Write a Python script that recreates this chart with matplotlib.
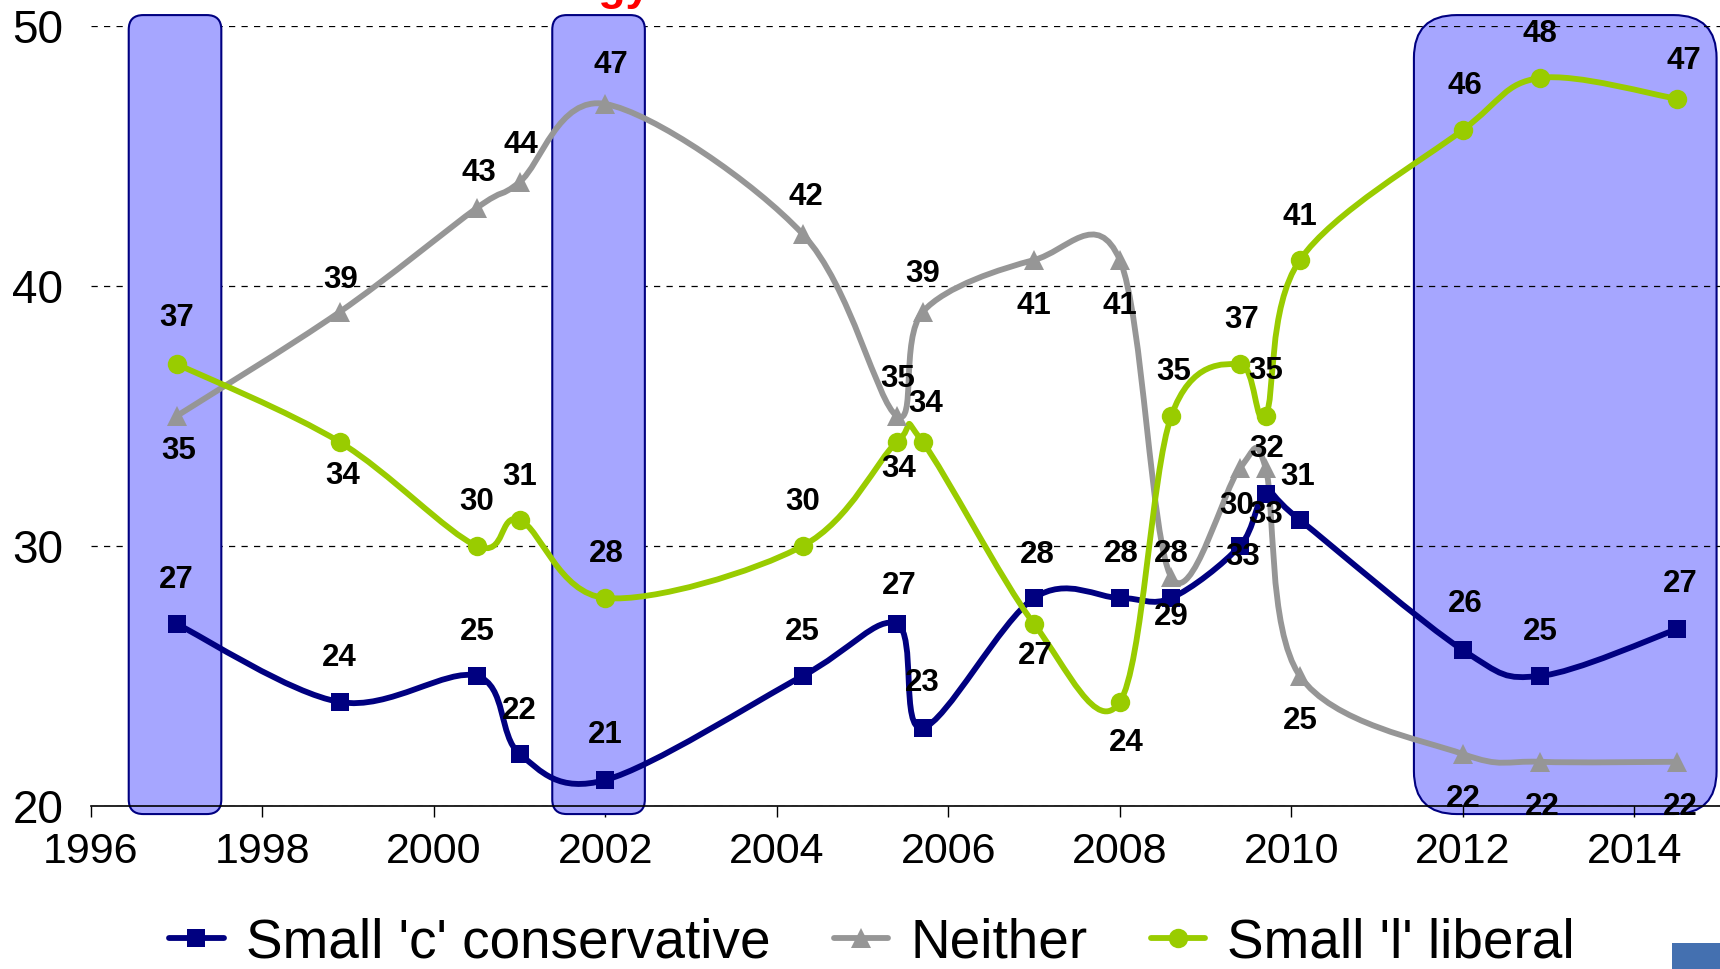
import matplotlib
matplotlib.use('Agg')
import matplotlib.pyplot as plt
import numpy as np
from matplotlib.path import Path
from matplotlib.patches import PathPatch, FancyBboxPatch, Rectangle
from matplotlib.lines import Line2D

# survey dates (decimal years) and shares (%)
years = [1997.0, 1998.9, 2000.5, 2001.0, 2002.0, 2004.3, 2005.4, 2005.7, 2007.0,
         2008.0, 2008.6, 2009.4, 2009.7, 2010.1, 2012.0, 2012.9, 2014.5]
conservative = [27, 24, 25, 22, 21, 25, 27, 23, 28, 28, 28, 30, 32, 31, 26, 25, 26.8]
neither = [35, 39, 43, 44, 47, 42, 35, 39, 41, 41, 28.8, 33, 33, 25, 22, 21.7, 21.7]
liberal = [37, 34, 30, 31, 28, 30, 34, 34, 27, 24, 35, 37, 35, 41, 46, 48, 47.2]

series_names = ["Small 'c' conservative", "Neither", "Small 'l' liberal"]
# shaded periods (start, end)
periods = [(1996.44, 1997.52), (2001.38, 2002.46), (2011.43, 2014.96)]
x_ticks = list(range(1996, 2015, 2))
y_ticks = [20, 30, 40, 50]

# label offsets in pixels (dx, dy)
cons_dx = [0, 0, 0, 0, 0, 0, 2, 0, 3, 1, 0, -3, 1, -2, 2, 0, 3]
cons_dy = [44, 44, 44, 43, 45, 44, 38, 45, 43, 44, 44, 40, 45, 43, 46, 44, 45]
neit_dx = [2, 1, 2, 1, 5, 3, 1, 0, 0, 0, 0, 3, 0, 0, 0, 2, 3]
neit_dy = [-35, 32, 35, 37, 39, 37, 37, 38, -46, -46, -40, -89, -47, -45, -45, -45, -45]
libe_dx = [0, 3, 0, 0, 1, 0, 2, 3, 1, 6, 2, 2, 0, 0, 2, 0, 7]
libe_dy = [46, -34, 44, 43, 44, 44, -27, 38, -32, -41, 44, 44, 45, 43, 44, 44, 38]

NAVY = '#000080'
GREY = '#969696'
GREEN = '#99CC00'
BOX = '#A6A6FF'
FONT = 'Liberation Sans'


def smooth_path(x, y, t=1 / 6):
    """Excel-like smoothed line as cubic bezier path through the points."""
    pts = np.column_stack([x, y]).astype(float)
    n = len(pts)
    verts = [pts[0]]
    codes = [Path.MOVETO]
    for i in range(n - 1):
        p0 = pts[max(i - 1, 0)]
        p1, p2 = pts[i], pts[i + 1]
        p3 = pts[min(i + 2, n - 1)]
        verts += [p1 + (p2 - p0) * t, p2 - (p3 - p1) * t, p2]
        codes += [Path.CURVE4] * 3
    return Path(verts, codes)


plt.rcParams['font.family'] = FONT

fig = plt.figure(figsize=(17.2, 9.69), dpi=100)
ax = fig.add_axes([91 / 1720, 1 - 806 / 969, 1629 / 1720, 780 / 969])
ax.set_xlim(1996, 2015)
ax.set_ylim(20, 50)

# shaded boxes
px_per_year = 1629 / 19
px_per_unit = 780 / 30
aspect = px_per_year / px_per_unit
for i, (x0, x1) in enumerate(periods):
    r = 0.17 if i < 2 else 0.5
    box = FancyBboxPatch((x0, 19.69), x1 - x0, 50.42 - 19.69,
                         boxstyle=f"round,pad=0,rounding_size={r}",
                         mutation_aspect=aspect,
                         facecolor=BOX, edgecolor=NAVY, lw=1.5,
                         zorder=1 if i < 2 else 0.4, clip_on=False)
    ax.add_patch(box)

series = [
    (conservative, NAVY, 's', 13, cons_dx, cons_dy),
    (neither, GREY, '^', 15, neit_dx, neit_dy),
    (liberal, GREEN, 'o', 14, libe_dx, libe_dy),
]
handles = []
for (vals, col, mk, ms, dxs, dys), name in zip(series, series_names):
    ax.add_patch(PathPatch(smooth_path(years, vals), fill=False, edgecolor=col,
                           lw=4.2, capstyle='round', joinstyle='round', zorder=3,
                           clip_on=False))
    ax.plot(years, vals, ls='none', marker=mk, ms=ms, color=col,
            markeredgewidth=0, zorder=4, clip_on=False)
    for x, v, dx, dy in zip(years, vals, dxs, dys):
        ax.annotate(f"{v:.0f}", (x, v), xytext=(dx, dy), textcoords='offset pixels',
                    ha='center', va='center', fontsize=22.5, fontweight='bold',
                    color='black', zorder=6, annotation_clip=False)
    handles.append(Line2D([], [], color=col, lw=4.2, marker=mk, ms=ms,
                          markeredgewidth=0, solid_capstyle='round', label=name))

ax.set_axisbelow(True)
ax.grid(axis='y', color='black', ls=(0, (5, 5)), lw=0.9)
ax.set_xticks(x_ticks)
ax.set_yticks(y_ticks)
ax.tick_params(axis='x', direction='out', length=8, width=1, pad=11, labelsize=31)
ax.tick_params(axis='y', length=0, pad=20, labelsize=33)
for s in ['top', 'right', 'left']:
    ax.spines[s].set_visible(False)
ax.spines['bottom'].set_linewidth(1.2)

fig.legend(handles=handles, loc='center', bbox_to_anchor=(0.507, 1 - 943 / 969),
           ncol=3, frameon=False, fontsize=39.5, handlelength=1.0,
           handletextpad=0.4, columnspacing=1.15, borderaxespad=0)

# cut-off title at the very top
fig.text(650 / 1720, 1.0, 'Ideology', ha='right', va='baseline', color='red',
         fontsize=32, fontweight='bold')

# logo corner
fig.patches.append(Rectangle((1672 / 1720, 0), 48 / 1720, 26 / 969,
                             transform=fig.transFigure, facecolor='#4470B0',
                             edgecolor='none'))

fig.savefig('out.png', dpi=100)
